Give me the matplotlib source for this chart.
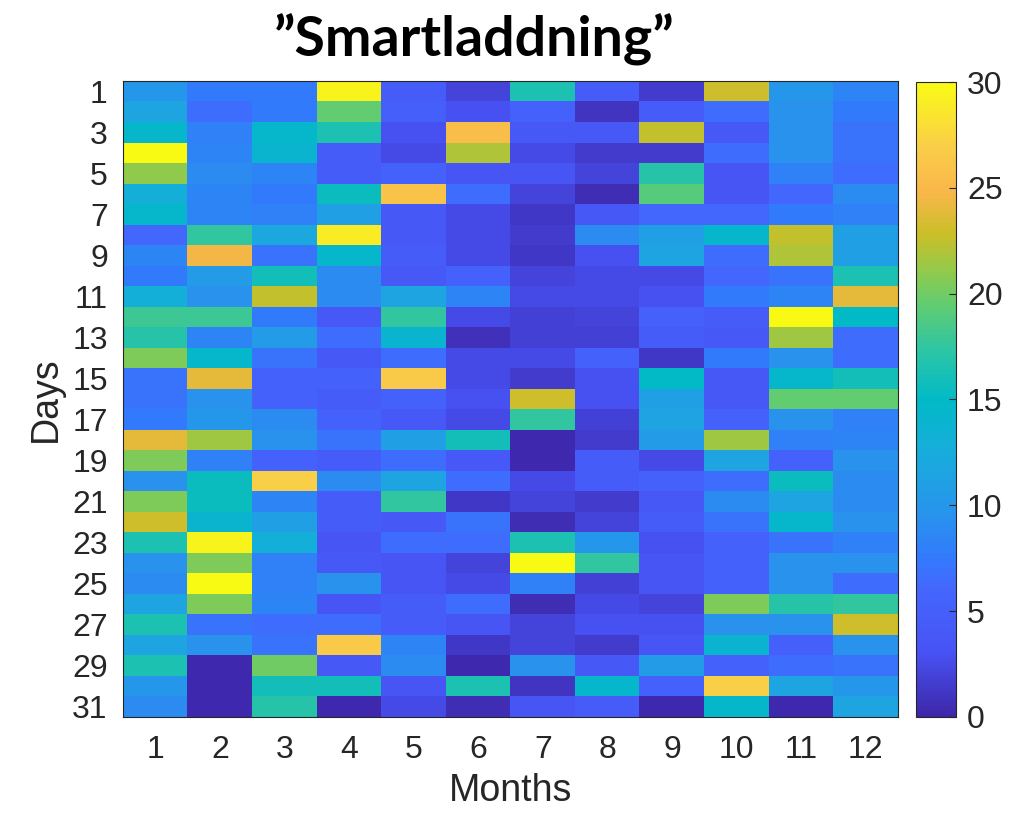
import matplotlib
matplotlib.use("Agg")
import matplotlib.pyplot as plt
import numpy as np
from matplotlib.colors import LinearSegmentedColormap

# Dagliga värden per månad (rader = dag 1..31, kolumner = månad 1..12)
months = list(range(1, 13))
days = list(range(1, 32))
day_ticks = list(range(1, 32, 2))
cbar_ticks = [0, 5, 10, 15, 20, 25, 30]

values = np.array([
    [10.0, 7.5, 7.5, 29.5, 4.5, 2.0, 16.5, 4.5, 1.5, 23.0, 10.0, 8.5],
    [11.5, 6.5, 7.5, 19.5, 5.0, 3.0, 5.5, 1.0, 4.5, 6.5, 9.5, 7.5],
    [14.5, 8.0, 14.5, 16.5, 3.0, 25.5, 4.0, 4.0, 22.5, 4.0, 9.5, 7.0],
    [30.0, 8.5, 14.0, 4.5, 2.5, 22.0, 2.5, 1.5, 1.5, 6.5, 9.5, 7.0],
    [21.0, 9.0, 8.5, 4.5, 5.5, 3.5, 3.5, 2.0, 17.0, 3.5, 8.0, 6.5],
    [13.0, 8.5, 7.5, 15.5, 26.0, 6.5, 2.0, 0.5, 19.0, 3.5, 6.0, 9.0],
    [14.5, 8.5, 8.0, 11.0, 4.0, 2.5, 1.2, 4.0, 6.0, 6.0, 7.5, 8.0],
    [6.0, 17.5, 12.0, 29.0, 4.0, 2.5, 1.5, 9.0, 11.0, 14.5, 22.5, 11.0],
    [8.5, 24.5, 7.0, 14.5, 4.5, 2.5, 1.2, 3.0, 11.5, 6.5, 22.0, 11.0],
    [7.5, 10.5, 16.0, 9.0, 4.0, 5.5, 2.0, 2.5, 2.5, 6.0, 7.0, 16.5],
    [13.0, 9.5, 22.5, 9.0, 11.5, 8.5, 2.5, 2.5, 3.0, 7.5, 8.5, 24.0],
    [18.0, 18.0, 7.5, 4.0, 17.5, 2.5, 1.8, 2.0, 5.5, 4.5, 30.0, 15.0],
    [17.0, 8.5, 10.5, 6.5, 14.0, 0.8, 1.8, 1.8, 4.5, 4.0, 21.5, 6.5],
    [20.5, 14.5, 7.0, 4.0, 6.5, 2.5, 2.5, 5.5, 1.2, 7.5, 9.5, 6.5],
    [7.0, 24.0, 5.5, 5.5, 26.5, 2.5, 1.5, 3.0, 15.0, 4.0, 14.5, 16.0],
    [7.0, 9.5, 5.5, 4.5, 5.5, 3.0, 23.0, 3.0, 11.0, 4.0, 19.5, 19.5],
    [7.5, 10.0, 9.0, 5.5, 4.0, 2.5, 17.5, 1.8, 11.5, 5.5, 9.5, 8.0],
    [24.0, 21.5, 9.5, 7.0, 11.0, 16.0, 0.3, 1.5, 10.5, 21.5, 8.0, 8.5],
    [20.5, 8.0, 5.5, 4.5, 6.5, 4.0, 0.3, 4.5, 2.5, 11.5, 5.5, 9.5],
    [9.5, 15.5, 27.0, 9.0, 11.5, 6.5, 2.5, 4.5, 5.5, 6.5, 15.5, 9.0],
    [20.5, 15.5, 8.5, 4.5, 17.5, 1.2, 2.0, 1.5, 4.0, 9.0, 11.5, 9.0],
    [23.0, 14.0, 11.0, 4.5, 4.0, 7.0, 0.5, 2.0, 4.5, 7.0, 14.5, 9.5],
    [16.5, 29.5, 13.0, 3.5, 6.5, 6.5, 16.5, 10.0, 3.0, 5.5, 7.0, 8.0],
    [9.5, 20.5, 8.0, 4.0, 3.5, 2.0, 30.0, 17.5, 3.5, 5.5, 9.5, 9.5],
    [9.0, 30.0, 8.0, 9.5, 3.5, 2.5, 8.0, 1.8, 3.5, 5.5, 9.5, 6.5],
    [11.5, 20.5, 8.5, 3.5, 4.5, 6.5, 0.5, 2.5, 2.0, 20.5, 17.0, 17.5],
    [16.5, 7.0, 6.5, 6.5, 4.5, 3.5, 2.0, 3.0, 3.0, 9.5, 9.5, 23.0],
    [11.5, 9.5, 7.0, 26.5, 8.5, 1.2, 2.0, 1.5, 3.5, 14.0, 5.0, 9.5],
    [16.5, 0.3, 20.0, 4.0, 9.0, 0.3, 9.5, 4.0, 10.5, 5.5, 6.5, 7.0],
    [10.0, 0.3, 16.0, 16.0, 3.5, 16.5, 1.0, 14.5, 5.5, 27.0, 11.5, 10.0],
    [9.0, 0.3, 17.0, 0.3, 2.5, 0.5, 3.5, 4.5, 0.3, 14.5, 0.3, 11.5],
])

# parula-liknande färgskala
parula = LinearSegmentedColormap.from_list("parula", [
    (0.000, (0.2422, 0.1504, 0.6603)),
    (0.100, (0.2810, 0.3228, 0.9579)),
    (0.200, (0.2647, 0.4030, 0.9935)),
    (0.250, (0.2006, 0.4803, 0.9906)),
    (0.330, (0.1500, 0.5900, 0.9200)),
    (0.420, (0.0900, 0.6800, 0.8600)),
    (0.500, (0.0050, 0.7300, 0.7800)),
    (0.580, (0.1800, 0.7750, 0.6400)),
    (0.650, (0.3800, 0.8020, 0.4450)),
    (0.700, (0.5600, 0.7950, 0.3050)),
    (0.760, (0.7900, 0.7500, 0.1570)),
    (0.830, (0.9800, 0.7150, 0.2900)),
    (0.900, (0.9800, 0.8100, 0.2850)),
    (1.000, (0.9769, 0.9839, 0.0805)),
], N=256)

plt.rcParams['font.family'] = ['Liberation Sans', 'DejaVu Sans']
text_col = (0.15, 0.15, 0.15)

fig = plt.figure(figsize=(10.22, 8.21), dpi=100)
ax = fig.add_axes([0.1204, 0.1267, 0.7583, 0.7746])
im = ax.imshow(values, cmap=parula, vmin=0, vmax=30, aspect='auto',
               interpolation='nearest',
               extent=(0.5, len(months) + 0.5, len(days) + 0.5, 0.5))

ax.set_xticks(months)
ax.set_yticks(day_ticks)
ax.tick_params(axis='x', length=0, labelsize=23, colors=text_col, pad=13)
ax.tick_params(axis='y', length=0, labelsize=23, colors=text_col, pad=11)
for s in ax.spines.values():
    s.set_color(text_col)
    s.set_linewidth(0.8)
ax.set_xlabel('Months', fontsize=27, color=text_col, labelpad=6)
ax.set_ylabel('Days', fontsize=27, color=text_col, labelpad=6)

cax = fig.add_axes([0.8963, 0.1267, 0.0391, 0.7734])
cb = fig.colorbar(im, cax=cax, ticks=cbar_ticks)
cb.ax.tick_params(direction='in', length=5, labelsize=23, colors=text_col, pad=8)
cb.outline.set_edgecolor(text_col)
cb.outline.set_linewidth(0.8)

fig.text(0.4638, 0.951, '\u201dSmartladdning\u201d', ha='center', va='center',
         fontsize=40, fontweight='bold',
         family=['Lato', 'DejaVu Sans'])

fig.savefig('out.png', dpi=100)
